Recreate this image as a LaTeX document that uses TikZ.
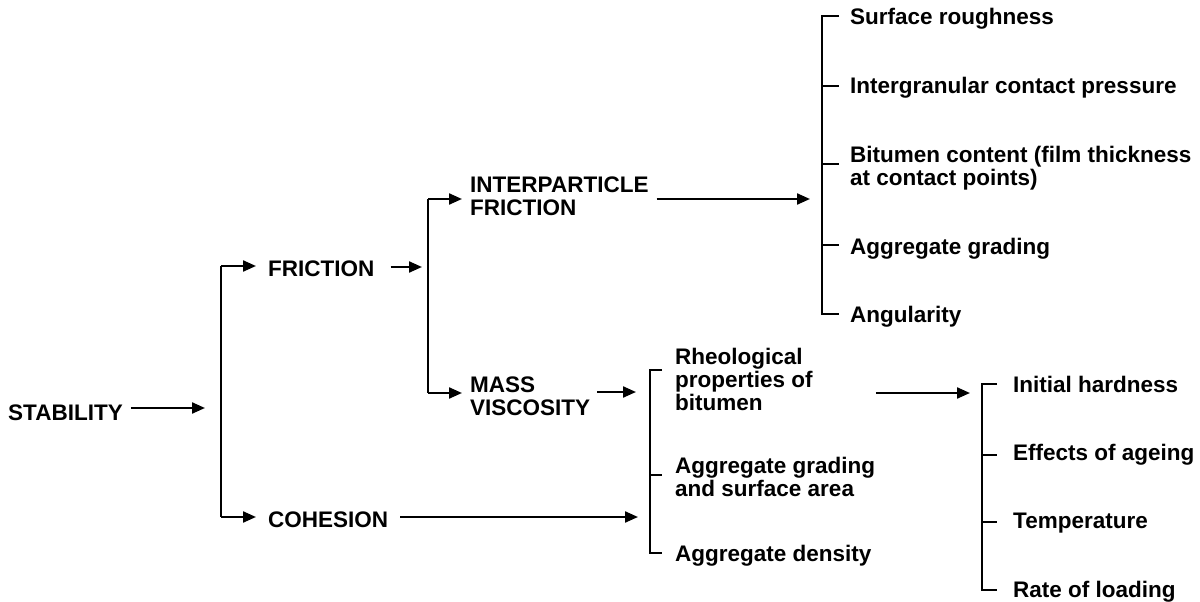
\documentclass[tikz,border=0pt]{standalone}
\usepackage{fontspec}
\setmainfont{Liberation Sans}
\usetikzlibrary{arrows.meta}
\begin{document}
\begin{tikzpicture}[x=1pt,y=-1pt,
  lbl/.style={anchor=base west, inner sep=0pt, font=\bfseries\fontsize{22.5}{22.8}\selectfont, align=left},
  ln/.style={line width=2.2pt},
  arr/.style={line width=2.2pt, -{Triangle[length=13pt,width=11pt]}}]
\useasboundingbox (0,0) rectangle (1200,602);
% texts (multi-line nodes are placed by the baseline of their last line)
\node[lbl] (stab) at (8,420) {STABILITY};
\node[lbl] (fric) at (268,276) {FRICTION};
\node[lbl] (coh) at (268,527) {COHESION};
\node[lbl] (inter) at (470,215) {INTERPARTICLE\\FRICTION};
\node[lbl] (mass) at (470,415) {MASS\\VISCOSITY};
\node[lbl] (sr) at (850,25) {Surface roughness};
\node[lbl] (icp) at (850,94) {Intergranular contact pressure};
\node[lbl] (bc) at (850,185) {Bitumen content (film thickness\\at contact points)};
\node[lbl] (ag) at (850,254) {Aggregate grading};
\node[lbl] (ang) at (850,322) {Angularity};
\node[lbl] (rheo) at (675,410) {Rheological\\properties of\\bitumen};
\node[lbl] (ags) at (675,496) {Aggregate grading\\and surface area};
\node[lbl] (ad) at (675,561) {Aggregate density};
\node[lbl] (ih) at (1013,392) {Initial hardness};
\node[lbl] (ea) at (1013,460) {Effects of ageing};
\node[lbl] (temp) at (1013,528) {Temperature};
\node[lbl] (rl) at (1013,597) {Rate of loading};
% coordinates
\coordinate (b1) at (205,408);
\coordinate (v1t) at (221,266); \coordinate (v1b) at (221,517);
\coordinate (b2) at (422,267);
\coordinate (v2t) at (428,199); \coordinate (v2b) at (428,393);
\coordinate (b3) at (810,199);
\coordinate (v3t) at (822,16); \coordinate (t32) at (822,86); \coordinate (t33) at (822,164); \coordinate (t34) at (822,245); \coordinate (v3b) at (822,314);
\coordinate (b4) at (636,392); \coordinate (b4c) at (638,517);
\coordinate (v4t) at (650,370); \coordinate (t42) at (650,475); \coordinate (v4b) at (650,553);
\coordinate (b5) at (970,393);
\coordinate (v5t) at (982,384); \coordinate (t52) at (982,455); \coordinate (t53) at (982,522); \coordinate (v5b) at (982,590);
% connectors
\draw[arr] ([xshift=8pt]stab.east |- b1) -- (b1);
\draw[ln] (v1t) -- (v1b);
\draw[arr] (v1t) -- ([xshift=-12pt]fric.west |- v1t);
\draw[arr] (v1b) -- ([xshift=-12pt]coh.west |- v1b);
\draw[arr] ([xshift=16pt]fric.east |- b2) -- (b2);
\draw[ln] (v2t) -- (v2b);
\draw[arr] (v2t) -- ([xshift=-8pt]inter.west |- v2t);
\draw[arr] (v2b) -- ([xshift=-8pt]mass.west |- v2b);
\draw[arr] ([xshift=8pt]inter.east |- b3) -- (b3);
\draw[ln] ([xshift=-11pt]sr.west |- v3t) -- (v3t) -- (v3b) -- ([xshift=-11pt]ang.west |- v3b);
\draw[ln] (t32) -- ([xshift=-11pt]icp.west |- t32);
\draw[ln] (t33) -- ([xshift=-11pt]bc.west |- t33);
\draw[ln] (t34) -- ([xshift=-11pt]ag.west |- t34);
\draw[arr] ([xshift=7pt]mass.east |- b4) -- (b4);
\draw[arr] ([xshift=12pt]coh.east |- b4c) -- (b4c);
\draw[ln] ([xshift=-13pt]rheo.west |- v4t) -- (v4t) -- (v4b) -- ([xshift=-13pt]ad.west |- v4b);
\draw[ln] (t42) -- ([xshift=-13pt]ags.west |- t42);
\draw[arr] ([xshift=63pt]rheo.east |- b5) -- (b5);
\draw[ln] ([xshift=-16pt]ih.west |- v5t) -- (v5t) -- (v5b) -- ([xshift=-16pt]rl.west |- v5b);
\draw[ln] (t52) -- ([xshift=-16pt]ea.west |- t52);
\draw[ln] (t53) -- ([xshift=-16pt]temp.west |- t53);
\end{tikzpicture}
\end{document}
